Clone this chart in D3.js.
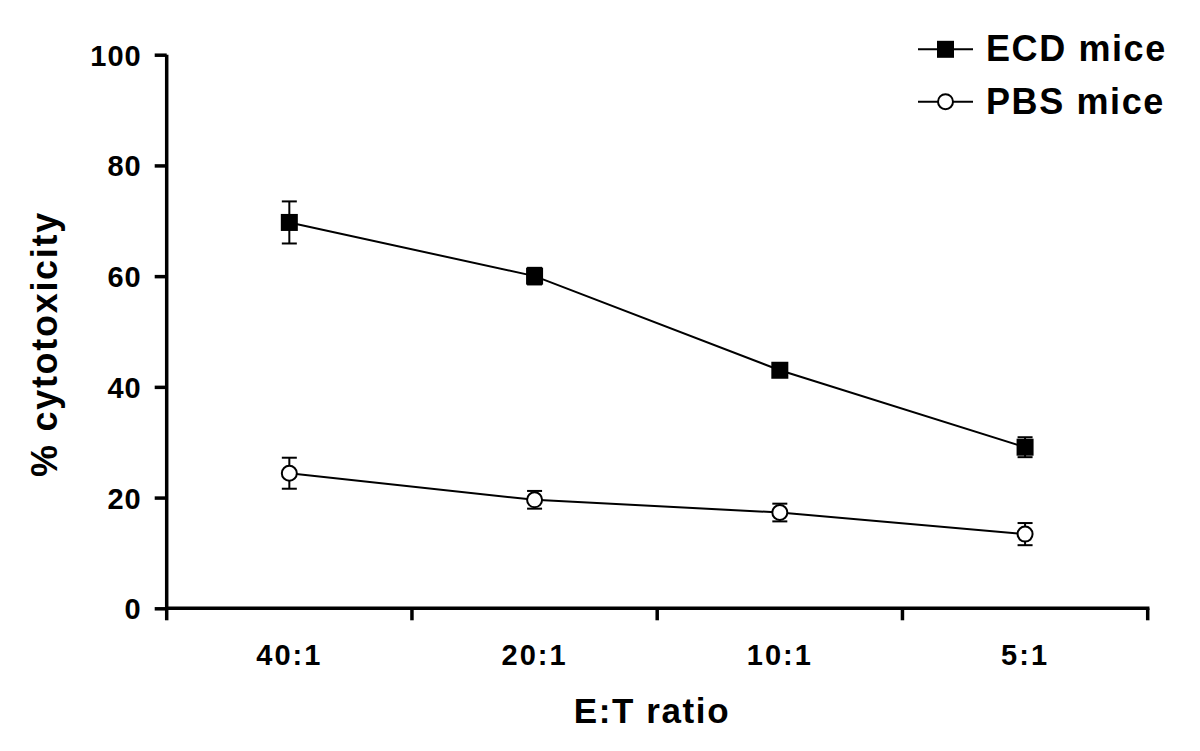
<!DOCTYPE html>
<html>
<head>
<meta charset="utf-8">
<script src="https://cdn.jsdelivr.net/npm/d3@7"></script>
<style>
  body { margin: 0; background: #fff; }
  text { font-family: "Liberation Sans", Arial, sans-serif; font-weight: bold; fill: #000; }
</style>
</head>
<body>
<script>
// E:T ratio cytotoxicity chart

var ratios = ["40:1", "20:1", "10:1", "5:1"];
var ecdMean = [69.7, 60.0, 43.0, 29.1];
var ecdErr = [3.8, 1.5, 0.6, 1.8];
var pbsMean = [24.4, 19.6, 17.3, 13.4];
var pbsErr = [2.8, 1.6, 1.6, 2.0];
var yTicks = [0, 20, 40, 60, 80, 100];

var w = 1200;
var h = 751;

var svg = d3.select("body").append("svg")
    .attr("width", w)
    .attr("height", h);

var x = d3.scaleBand()
    .domain(ratios)
    .range([166.7, 1147.7]);

var y = d3.scaleLinear()
    .domain([0, 100])
    .range([608.3, 54.7]);

// Axes
var yAxis = svg.append("g")
    .attr("transform", "translate(166.7,0)")
    .call(d3.axisLeft(y).tickValues(yTicks).tickSize(12).tickPadding(13));

var xAxis = svg.append("g")
    .attr("transform", "translate(0,608.3)")
    .call(d3.axisBottom(x).tickSize(0).tickPadding(36));

// band-edge ticks, as in the original
xAxis.selectAll("line.edge")
    .data(d3.range(ratios.length + 1))
    .enter()
    .append("line")
    .attr("class", "edge")
    .attr("x1", function(d) { return x.range()[0] + d * x.step(); })
    .attr("x2", function(d) { return x.range()[0] + d * x.step(); })
    .attr("y1", 0)
    .attr("y2", 12);

svg.selectAll(".domain, .tick line, line.edge")
    .attr("stroke", "#000")
    .attr("stroke-width", 3.5)
    .attr("stroke-linecap", "butt");

// extend axes so the corners meet
yAxis.select(".domain").attr("d", "M0," + y(100) + "V" + (y(0) + 1.75));
xAxis.select(".domain").attr("d", "M" + (x.range()[0] - 1.75) + ",0H" + (x.range()[1] + 1.75));

svg.selectAll(".tick text")
    .style("font-size", "29px")
    .style("letter-spacing", "1px");
xAxis.selectAll(".tick text").style("letter-spacing", "2px");
yAxis.selectAll(".tick text").attr("dy", "0.36em");

// Axis titles
svg.append("text")
    .attr("x", 652)
    .attr("y", 723)
    .attr("text-anchor", "middle")
    .style("font-size", "35px")
    .style("letter-spacing", "1.6px")
    .text("E:T ratio");

svg.append("text")
    .attr("transform", "translate(57,344) rotate(-90)")
    .attr("text-anchor", "middle")
    .style("font-size", "36px")
    .style("letter-spacing", "1.7px")
    .text("% cytotoxicity");

// Series
var series = [
    { name: "ECD mice", mean: ecdMean, err: ecdErr, shape: "square" },
    { name: "PBS mice", mean: pbsMean, err: pbsErr, shape: "circle" }
];

var line = d3.line()
    .x(function(d, i) { return x(ratios[i]) + x.bandwidth() / 2; })
    .y(function(d) { return y(d); });

series.forEach(function(s) {
    var g = svg.append("g");

    g.append("path")
        .datum(s.mean)
        .attr("d", line)
        .attr("fill", "none")
        .attr("stroke", "#000")
        .attr("stroke-width", 2);

    var pts = s.mean.map(function(m, i) {
        return { cx: x(ratios[i]) + x.bandwidth() / 2, m: m, e: s.err[i] };
    });

    // error bars
    var eb = g.selectAll("g.err")
        .data(pts)
        .enter()
        .append("g")
        .attr("class", "err")
        .attr("stroke", "#000")
        .attr("stroke-width", 2);

    eb.append("line")
        .attr("x1", function(d) { return d.cx; })
        .attr("x2", function(d) { return d.cx; })
        .attr("y1", function(d) { return y(d.m + d.e); })
        .attr("y2", function(d) { return y(d.m - d.e); });

    [1, -1].forEach(function(sign) {
        eb.append("line")
            .attr("x1", function(d) { return d.cx - 7.5; })
            .attr("x2", function(d) { return d.cx + 7.5; })
            .attr("y1", function(d) { return y(d.m + sign * d.e); })
            .attr("y2", function(d) { return y(d.m + sign * d.e); });
    });

    if (s.shape === "square") {
        g.selectAll("rect")
            .data(pts)
            .enter()
            .append("rect")
            .attr("x", function(d) { return d.cx - 8.5; })
            .attr("y", function(d) { return y(d.m) - 8.5; })
            .attr("width", 17)
            .attr("height", 17)
            .attr("fill", "#000");
    } else {
        g.selectAll("circle")
            .data(pts)
            .enter()
            .append("circle")
            .attr("cx", function(d) { return d.cx; })
            .attr("cy", function(d) { return y(d.m); })
            .attr("r", 7.5)
            .attr("fill", "#fff")
            .attr("stroke", "#000")
            .attr("stroke-width", 2);
    }
});

// Legend
var legend = svg.selectAll("g.legend")
    .data(series)
    .enter()
    .append("g")
    .attr("class", "legend")
    .attr("transform", function(d, i) { return "translate(918," + (49.3 + i * 52.4) + ")"; });

legend.append("line")
    .attr("x1", 0)
    .attr("x2", 55)
    .attr("stroke", "#000")
    .attr("stroke-width", 2);

legend.filter(function(d) { return d.shape === "square"; })
    .append("rect")
    .attr("x", 27.5 - 8.5)
    .attr("y", -8.5)
    .attr("width", 17)
    .attr("height", 17)
    .attr("fill", "#000");

legend.filter(function(d) { return d.shape === "circle"; })
    .append("circle")
    .attr("cx", 27.5)
    .attr("r", 7.5)
    .attr("fill", "#fff")
    .attr("stroke", "#000")
    .attr("stroke-width", 2);

legend.append("text")
    .attr("x", 68)
    .attr("y", 12)
    .style("font-size", "36px")
    .style("letter-spacing", "1.6px")
    .text(function(d) { return d.name; });
</script>
</body>
</html>
